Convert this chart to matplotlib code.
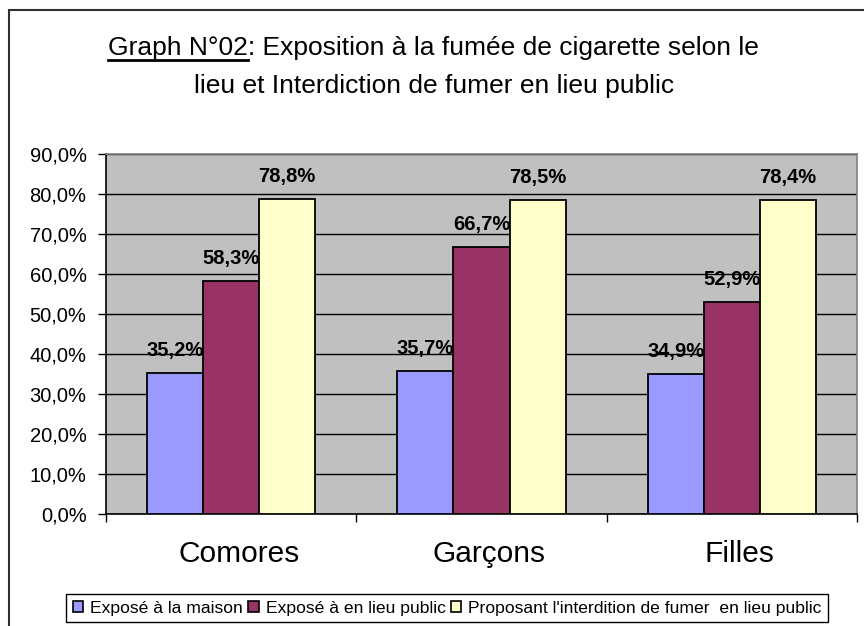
import matplotlib
matplotlib.use('Agg')
import matplotlib.pyplot as plt
import matplotlib.transforms as mtransforms
from matplotlib.patches import Rectangle, Patch
from matplotlib.lines import Line2D
from matplotlib.ticker import FuncFormatter, FixedLocator
import numpy as np

plt.rcParams['font.family'] = ['Liberation Sans', 'DejaVu Sans']

# donnees
categories = ['Comores', 'Garçons', 'Filles']
series_noms = ['Exposé à la maison', 'Exposé à en lieu public',
               "Proposant l'interdition de fumer  en lieu public"]
maison = [35.2, 35.7, 34.9]
lieu_public = [58.3, 66.7, 52.9]
interdiction = [78.8, 78.5, 78.4]
couleurs = ['#9999FF', '#993366', '#FFFFCC']

W, H = 864, 626
fig = plt.figure(figsize=(W / 100, H / 100), dpi=100)
ax = fig.add_axes([106 / W, 1 - 514 / H, (857 - 106) / W, (514 - 154) / H])
ax.set_facecolor('#C0C0C0')

x = np.arange(len(categories))
largeur = 0.224
for i, (vals, c) in enumerate(zip([maison, lieu_public, interdiction], couleurs)):
    pos = x + (i - 1) * largeur
    ax.bar(pos, vals, width=largeur, color=c, edgecolor='black', linewidth=1.3, zorder=3)
    for px, v in zip(pos, vals):
        ax.annotate(f'{v:.1f}%'.replace('.', ','), (px, v), xytext=(0, 17),
                    textcoords='offset pixels', ha='center', va='baseline',
                    fontsize=14.5, fontweight='bold', zorder=4)

ax.set_xlim(-0.5, 2.5)
ax.set_ylim(0, 90)
ax.set_yticks(np.arange(0, 91, 10))
ax.yaxis.set_major_formatter(FuncFormatter(lambda v, p: f'{v:.1f}%'.replace('.', ',')))
ax.yaxis.grid(True, color='black', linewidth=1, zorder=1)
ax.tick_params(axis='y', length=6, width=1, labelsize=14.5, pad=8)

ax.xaxis.set_major_locator(FixedLocator([-0.5, 0.5, 1.5, 2.5]))
ax.set_xticklabels([])
ax.set_xticks(x, minor=True)
ax.set_xticklabels(categories, minor=True, fontsize=21.5)
ax.tick_params(axis='x', which='major', length=6, width=1)
ax.tick_params(axis='x', which='minor', length=0, pad=19)
decalage = mtransforms.ScaledTranslation(8 / 100, 0, fig.dpi_scale_trans)
for lab in ax.get_xticklabels(minor=True):
    lab.set_transform(lab.get_transform() + decalage)

for s in ['left', 'bottom']:
    ax.spines[s].set_color('black')
    ax.spines[s].set_linewidth(1.2)
for s in ['top', 'right']:
    ax.spines[s].set_color('#808080')
    ax.spines[s].set_linewidth(1.2)

# titre avec soulignement
taille_titre = 19
ligne1_a = 'Graph N°02'
ligne1 = ligne1_a + ': Exposition à la fumée de cigarette selon le'
ligne2 = 'lieu et Interdiction de fumer en lieu public'
t1 = fig.text(0.502, 1 - 55 / H, ligne1, ha='center', va='baseline', fontsize=taille_titre)
fig.text(0.502, 1 - 93 / H, ligne2, ha='center', va='baseline', fontsize=taille_titre)
fig.canvas.draw()
r = fig.canvas.get_renderer()
bb = t1.get_window_extent(r)
tmp = fig.text(0, 0, ligne1_a, fontsize=taille_titre)
wa = tmp.get_window_extent(r).width
tmp.remove()
yl = 1 - 60 / H
fig.add_artist(Line2D([bb.x0 / W, (bb.x0 + wa) / W], [yl, yl],
                      transform=fig.transFigure, color='black', linewidth=2))

# legende
poignees = [Patch(facecolor=c, edgecolor='black', linewidth=1.2) for c in couleurs]
leg = fig.legend(poignees, series_noms, loc='center', ncol=3,
                 bbox_to_anchor=(447 / W, 1 - 608 / H), fontsize=12.6,
                 handlelength=0.6, handleheight=0.6, handletextpad=0.4,
                 columnspacing=0.3, borderpad=0.35, fancybox=False,
                 framealpha=1, edgecolor='black')
leg.get_frame().set_linewidth(1)

# cadre du graphique
fig.add_artist(Rectangle((9 / W, -0.1), 1.2, 1.1 - 9.5 / H, transform=fig.transFigure,
                         fill=False, edgecolor='#303030', linewidth=1.5))

fig.savefig('out.png', dpi=100)
